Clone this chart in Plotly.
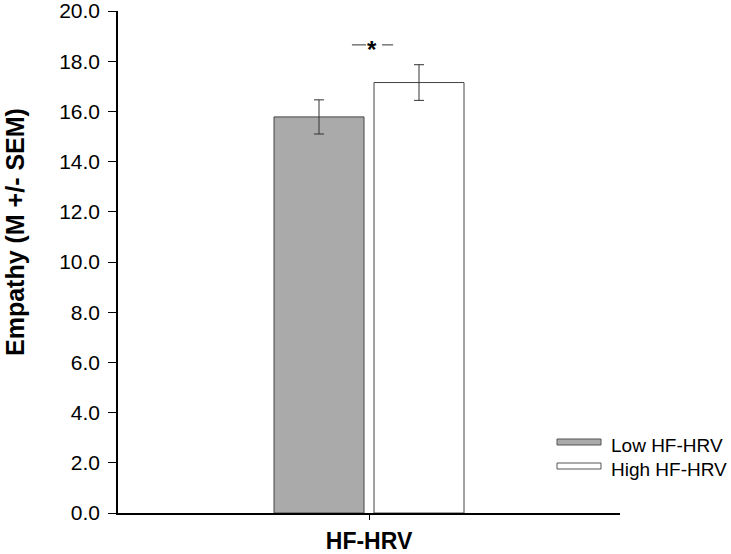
import plotly.graph_objects as go

categories = ["HF-HRV"]
groups = ["Low HF-HRV", "High HF-HRV"]
means = [15.78, 17.15]
sems = [0.68, 0.71]
fills = ["#aaaaaa", "#ffffff"]
y_ticks = [0, 2, 4, 6, 8, 10, 12, 14, 16, 18, 20]
sig_label = "*"

fig = go.Figure()
for g, m, s, c in zip(groups, means, sems, fills):
    fig.add_trace(go.Bar(
        x=categories, y=[m], name=g,
        marker=dict(color=c, line=dict(color="#444444", width=1)),
        error_y=dict(type="data", array=[s], visible=True, color="#333333", thickness=1, width=5),
        showlegend=False,
    ))

L, R, T, B = 118, 111, 11, 41
PW, PH = 731 - L - R, 554 - T - B

fig.update_layout(
    width=731, height=554,
    margin=dict(l=L, r=R, t=T, b=B),
    plot_bgcolor="white", paper_bgcolor="white",
    barmode="group", bargap=0.6016, bargroupgap=0.1,
    font=dict(family="Liberation Sans, Arial, sans-serif", color="black"),
)
fig.update_yaxes(
    range=[0, 20], tickvals=y_ticks, ticktext=[f"{v:.1f}" for v in y_ticks],
    showgrid=False, zeroline=False, showline=True, linecolor="black", linewidth=1.5,
    ticks="outside", ticklen=8, tickwidth=1.2, tickcolor="black",
    tickfont=dict(size=21), automargin=False, ticklabeloverflow="allow",
    ticklabelstandoff=4,
)
fig.update_xaxes(
    range=[-0.5, 0.5], showgrid=False, zeroline=False, showline=True, linecolor="black", linewidth=1.5,
    ticks="outside", ticklen=5, tickwidth=1.2, tickcolor="black",
    showticklabels=False, automargin=False,
    title=dict(text="<b>HF-HRV</b>", font=dict(size=23), standoff=20),
)

# y-axis title (placed like the reference, above plot centre)
fig.add_annotation(xref="paper", yref="paper", x=(15 - L) / PW, y=(554 - B - 232) / PH,
                   text="<b>Empathy (M +/- SEM)</b>", textangle=-90, showarrow=False,
                   xanchor="center", yanchor="middle", font=dict(size=25))

# significance marker
fig.add_shape(type="line", xref="x", yref="y", x0=-0.034, x1=-0.006, y0=18.65, y1=18.65,
              line=dict(color="#333333", width=1))
fig.add_shape(type="line", xref="x", yref="y", x0=0.026, x1=0.048, y0=18.65, y1=18.65,
              line=dict(color="#333333", width=1))
fig.add_annotation(x=0.005, y=18.45, xref="x", yref="y", text=f"<b>{sig_label}</b>",
                   showarrow=False, font=dict(size=24), yanchor="middle")

# custom legend
rect_y = [442, 466]
text_y = [445, 469]
for g, c, ry, ty in zip(groups, fills, rect_y, text_y):
    fig.add_shape(type="rect", xref="paper", yref="paper",
                  x0=(557 - L) / PW, x1=(601 - L) / PW,
                  y0=(554 - ry - 3 - B) / PH, y1=(554 - ry + 3 - B) / PH,
                  fillcolor=c, line=dict(color="#555555", width=1))
    fig.add_annotation(xref="paper", yref="paper", x=(609 - L) / PW, y=(554 - ty - B) / PH,
                       text=g, showarrow=False, xanchor="left", yanchor="middle",
                       font=dict(size=19))

fig.write_html(
    "out.html",
    config={"displayModeBar": False},
    post_script="document.body.style.margin='0';document.body.style.overflow='hidden';",
)
